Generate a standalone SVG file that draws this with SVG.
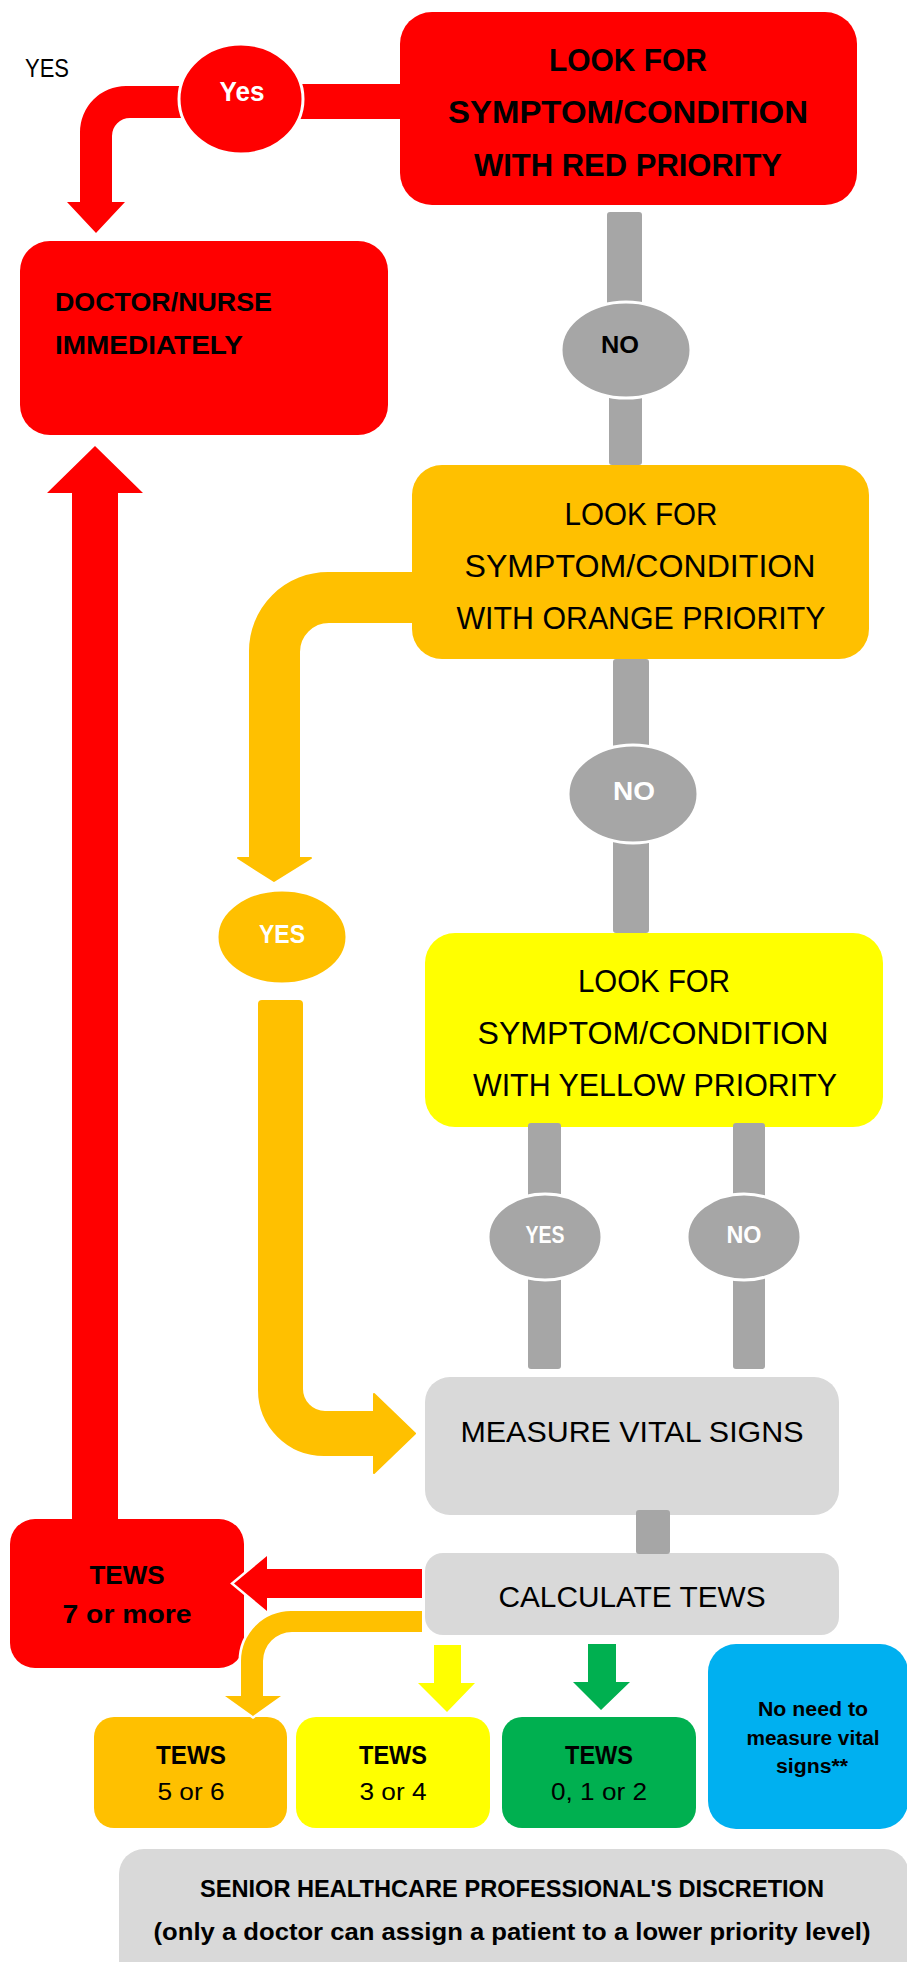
<svg xmlns="http://www.w3.org/2000/svg" width="907" height="1962" viewBox="0 0 907 1962">
<style>
text{font-family:"Liberation Sans",Arial,sans-serif;fill:#000}
.b{font-weight:bold}
.m{text-anchor:middle}
.w{fill:#fff}
.t31{font-size:31px}
.t30{font-size:30px}
.red{fill:#FF0000}
.org{fill:#FFC000}
.yel{fill:#FFFF00}
.grn{fill:#00B050}
.blu{fill:#00B0F0}
.lg{fill:#D9D9D9}
.dg{fill:#A6A6A6}
.ell{stroke:#fff;stroke-width:3}
.ol{stroke:#fff;stroke-width:5;paint-order:stroke;stroke-linejoin:miter}
</style>
<rect width="907" height="1962" fill="#fff"/>
<text x="25" y="77" font-size="26" textLength="44" lengthAdjust="spacingAndGlyphs">YES</text>

<g id="boxes">
<g id="red-look"><rect class="red" x="400" y="12" width="457" height="193" rx="32"/>
<text class="b m t31" x="628" y="71" textLength="158" lengthAdjust="spacingAndGlyphs">LOOK FOR</text>
<text class="b m t31" x="628" y="123" textLength="360" lengthAdjust="spacingAndGlyphs">SYMPTOM/CONDITION</text>
<text class="b m t31" x="628" y="176" textLength="308" lengthAdjust="spacingAndGlyphs">WITH RED PRIORITY</text></g>
<g id="doctor"><rect class="red" x="20" y="241" width="368" height="194" rx="30"/>
<text class="b" x="55" y="311" font-size="26" textLength="217" lengthAdjust="spacingAndGlyphs">DOCTOR/NURSE</text>
<text class="b" x="55" y="354" font-size="26" textLength="188" lengthAdjust="spacingAndGlyphs">IMMEDIATELY</text></g>
<g id="orange-look"><rect class="org" x="412" y="465" width="457" height="194" rx="30"/>
<text class="m t31" x="641" y="525" textLength="153" lengthAdjust="spacingAndGlyphs">LOOK FOR</text>
<text class="m t31" x="640" y="577" textLength="351" lengthAdjust="spacingAndGlyphs">SYMPTOM/CONDITION</text>
<text class="m t31" x="641" y="629" textLength="369" lengthAdjust="spacingAndGlyphs">WITH ORANGE PRIORITY</text></g>
<g id="yellow-look"><rect class="yel" x="425" y="933" width="458" height="194" rx="30"/>
<text class="m t31" x="654" y="992" textLength="152" lengthAdjust="spacingAndGlyphs">LOOK FOR</text>
<text class="m t31" x="653" y="1044" textLength="351" lengthAdjust="spacingAndGlyphs">SYMPTOM/CONDITION</text>
<text class="m t31" x="655" y="1096" textLength="364" lengthAdjust="spacingAndGlyphs">WITH YELLOW PRIORITY</text></g>
<g id="measure"><rect class="lg" x="425" y="1377" width="414" height="138" rx="25"/>
<text class="m t30" x="632" y="1442" textLength="343" lengthAdjust="spacingAndGlyphs">MEASURE VITAL SIGNS</text></g>
<g id="calculate"><rect class="lg" x="425" y="1553" width="414" height="82" rx="18"/>
<text class="m t30" x="632" y="1607" textLength="267" lengthAdjust="spacingAndGlyphs">CALCULATE TEWS</text></g>
<g id="tews-red"><rect class="red" x="10" y="1519" width="234" height="149" rx="25"/>
<text class="b m" x="127" y="1584" font-size="26" textLength="75" lengthAdjust="spacingAndGlyphs">TEWS</text>
<text class="b m" x="127" y="1623" font-size="26" textLength="129" lengthAdjust="spacingAndGlyphs">7 or more</text></g>
<g id="tews-orange"><rect class="org" x="94" y="1717" width="193" height="111" rx="20"/>
<text class="b m" x="191" y="1764" font-size="25" textLength="70" lengthAdjust="spacingAndGlyphs">TEWS</text>
<text class="m" x="191" y="1800" font-size="24" textLength="67" lengthAdjust="spacingAndGlyphs">5 or 6</text></g>
<g id="tews-yellow"><rect class="yel" x="296" y="1717" width="194" height="111" rx="20"/>
<text class="b m" x="393" y="1764" font-size="25" textLength="68" lengthAdjust="spacingAndGlyphs">TEWS</text>
<text class="m" x="393" y="1800" font-size="24" textLength="67" lengthAdjust="spacingAndGlyphs">3 or 4</text></g>
<g id="tews-green"><rect class="grn" x="502" y="1717" width="194" height="111" rx="20"/>
<text class="b m" x="599" y="1764" font-size="25" textLength="68" lengthAdjust="spacingAndGlyphs">TEWS</text>
<text class="m" x="599" y="1800" font-size="24" textLength="96" lengthAdjust="spacingAndGlyphs">0, 1 or 2</text></g>
<g id="no-need"><rect class="blu" x="708" y="1644" width="200" height="185" rx="28"/>
<text class="b m" x="813" y="1716" font-size="20" textLength="110" lengthAdjust="spacingAndGlyphs">No need to</text>
<text class="b m" x="813" y="1745" font-size="20" textLength="133" lengthAdjust="spacingAndGlyphs">measure vital</text>
<text class="b m" x="812" y="1773" font-size="20" textLength="72" lengthAdjust="spacingAndGlyphs">signs**</text></g>
<g id="discretion"><rect class="lg" x="119" y="1849" width="790" height="140" rx="25"/>
<text class="b m" x="512" y="1897" font-size="24" textLength="624" lengthAdjust="spacingAndGlyphs">SENIOR HEALTHCARE PROFESSIONAL'S DISCRETION</text>
<text class="b m" x="512" y="1940" font-size="24" textLength="717" lengthAdjust="spacingAndGlyphs">(only a doctor can assign a patient to a lower priority level)</text></g>
</g>

<g id="connectors">
<rect class="red" x="280" y="84" width="122" height="35"/>
<path class="red" d="M200 86 L126 86 A46 46 0 0 0 80 132 L80 202 L67 202 L96 233 L125 202 L112 202 L112 136 A18 18 0 0 1 130 118 L200 118 Z"/>
<rect class="dg" x="607" y="212" width="35" height="95" rx="3"/>
<rect class="dg" x="609" y="392" width="33" height="73" rx="3"/>
<path class="org" d="M420 573 L328 573 A78 78 0 0 0 250 651 L250 858 L238 858 L274 881 L311 858 L299 858 L299 652 A30 30 0 0 1 329 622 L420 622 Z" stroke="#FFC000" stroke-width="2" stroke-linejoin="round"/>
<rect class="dg" x="613" y="659" width="36" height="95" rx="3"/>
<rect class="dg" x="613" y="835" width="36" height="98" rx="3"/>
<path class="org" d="M259 1004 Q259 1001 262 1001 L299 1001 Q302 1001 302 1004 L302 1389 A23 23 0 0 0 325 1412 L374 1412 L374 1394 L415 1433.5 L374 1473 L374 1455 L324 1455 A65 65 0 0 1 259 1390 Z" stroke="#FFC000" stroke-width="2" stroke-linejoin="round"/>
<rect class="dg" x="528" y="1123" width="33" height="80" rx="3"/>
<rect class="dg" x="528" y="1272" width="33" height="97" rx="3"/>
<rect class="dg" x="733" y="1123" width="32" height="80" rx="3"/>
<rect class="dg" x="733" y="1272" width="32" height="97" rx="3"/>
<rect class="dg" x="636" y="1510" width="34" height="44" rx="3"/>
<path class="red" d="M72 1522 L72 493 L47 493 L95 446 L143 493 L118 493 L118 1522 Z"/>
<path class="red ol" d="M422 1569 L267 1569 L267 1556 L234 1583.5 L267 1611 L267 1598 L422 1598 Z"/>
<path class="org ol" d="M422 1611 L291 1611 A50 50 0 0 0 241 1661 L241 1696 L225 1696 L253 1716 L281 1696 L263 1696 L263 1661 A29 29 0 0 1 292 1632 L422 1632 Z"/>
<path class="yel" d="M434 1645 L461 1645 L461 1683 L475 1683 L447 1712 L418 1683 L434 1683 Z"/>
<path class="grn" d="M588 1644 L616 1644 L616 1682 L630 1682 L601 1710 L573 1682 L588 1682 Z"/>
</g>

<g id="labels">
<g id="yes-red"><ellipse class="red ell" cx="241" cy="99" rx="62" ry="55"/>
<text class="b m w" x="242" y="101" font-size="28" textLength="45" lengthAdjust="spacingAndGlyphs">Yes</text></g>
<g id="no-red"><ellipse class="dg ell" cx="626" cy="350" rx="65" ry="48"/>
<text class="b m" x="620" y="353" font-size="23" textLength="38" lengthAdjust="spacingAndGlyphs">NO</text></g>
<g id="no-orange"><ellipse class="dg ell" cx="633" cy="794" rx="65" ry="49"/>
<text class="b m w" x="634" y="800" font-size="25" textLength="42" lengthAdjust="spacingAndGlyphs">NO</text></g>
<g id="yes-orange"><ellipse class="org ell" cx="282" cy="937" rx="65" ry="47"/>
<text class="b m w" x="282" y="943" font-size="25" textLength="46" lengthAdjust="spacingAndGlyphs">YES</text></g>
<g id="yes-yellow"><ellipse class="dg ell" cx="545" cy="1237" rx="57" ry="43"/>
<text class="b m w" x="545" y="1243" font-size="23" textLength="39" lengthAdjust="spacingAndGlyphs">YES</text></g>
<g id="no-yellow"><ellipse class="dg ell" cx="744" cy="1237" rx="57" ry="43"/>
<text class="b m w" x="744" y="1243" font-size="23" textLength="35" lengthAdjust="spacingAndGlyphs">NO</text></g>
</g>
</svg>
